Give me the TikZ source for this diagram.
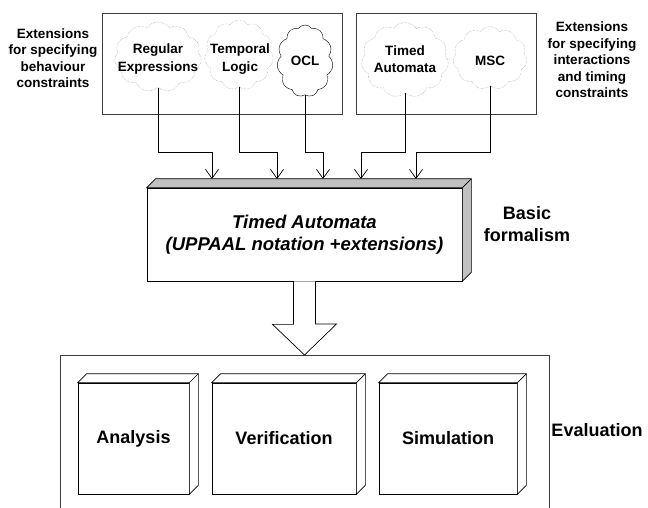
\documentclass[tikz,border=0pt]{standalone}
\usepackage{fontspec}
\setmainfont{Liberation Sans}
\usetikzlibrary{shapes,shapes.symbols,arrows.meta}
\definecolor{faceGray}{RGB}{192,192,192}
\definecolor{cloudGray}{RGB}{135,135,135}
\definecolor{frameGray}{RGB}{60,60,60}

\begin{document}
\begin{tikzpicture}[x=1pt,y=-1pt,
	every node/.style={font=\bfseries},
	frame/.style={draw=frameGray, line width=0.8pt, inner sep=0pt},
	ext/.style={cloud, cloud puffs=11, cloud puff arc=110, cloud ignores aspect,
		draw=cloudGray, densely dotted, inner sep=0pt},
	extlbl/.style={align=center, font=\bfseries\fontsize{13.5}{17.5}\selectfont},
	side/.style={align=center, font=\bfseries\fontsize{13.5}{16.5}\selectfont},
	block/.style={draw, fill=white, line width=0.7pt, inner sep=0pt, align=center,
		font=\bfseries\fontsize{18}{22}\selectfont},
	arr/.style={-{Straight Barb[length=9pt,width=13pt]}, line width=0.7pt},
	]
	\useasboundingbox (0,0) rectangle (648,508);
	
	% frames around the extensions
	\node[frame, minimum width=240, minimum height=101] (beh) at (222,63.5) {};
	\node[frame, minimum width=180, minimum height=101] (int) at (446,63.5) {};
	
	% extension clouds
	\node[ext, minimum width=87, minimum height=70] (re) at (158,57) {};
	\node[ext, minimum width=69, minimum height=70] (tl) at (239,55) {};
	\node[ext, minimum width=56, minimum height=72, draw=black, solid] (ocl) at (305,61) {};
	\node[ext, minimum width=87, minimum height=75] (tat) at (405,60) {};
	\node[ext, minimum width=74, minimum height=63] (msc) at (490,58) {};
	
	\node[extlbl] (reT) at (158,59) {Regular\\Expressions};
	\node[extlbl] (tlT) at (240,59) {Temporal\\Logic};
	\node[extlbl] (oclT) at (305,61) {OCL};
	\node[extlbl] (tatT) at (405,59) {Timed\\Automata};
	\node[extlbl] (mscT) at (490,61) {MSC};
	
	% side labels
	\node[side] (behL) at (53,58) {Extensions\\for specifying\\behaviour\\constraints};
	\node[side] (intL) at (592,60) {Extensions\\for specifying\\interactions\\and timing\\constraints};
	\node[block, draw=none, fill=none] (basL) at (527,224.5) {Basic\\formalism};
	\node[block, draw=none, fill=none] (evL) at (597,430) {Evaluation};
	
	% basic formalism box
	\node[block, minimum width=315, minimum height=93,
		font=\bfseries\itshape\fontsize{18.5}{22}\selectfont] (ta) at (304.5,234.5)
		{Timed Automata\\(UPPAAL notation +extensions)};
	\draw[fill=faceGray, line width=0.7pt] (ta.north west) -- ++(9,-9) -| ([shift={(9,-9)}]ta.south east)
		-- (ta.south east) -- (ta.north east) -- cycle;
	\draw[line width=0.7pt] (ta.north east) -- ++(9,-9);
	
	% arrows into the basic formalism
	\coordinate (bend) at (0,152);
	\coordinate (t1) at (212,179);
	\coordinate (t2) at (277,179);
	\coordinate (t3) at (323,179);
	\coordinate (t4) at (361,179);
	\coordinate (t5) at (416,179);
	\draw[arr] (re.south) |- (bend -| t1) -- (t1);
	\draw[arr] (tl.south) |- (bend -| t2) -- (t2);
	\draw[arr] (ocl.south) |- (bend -| t3) -- (t3);
	\draw[arr] (tat.south) |- (bend -| t4) -- (t4);
	\draw[arr] (msc.south) |- (bend -| t5) -- (t5);
	
	% evaluation frame (runs off the bottom)
	\coordinate (evtop) at (305,355);
	\draw[frame] (60,512) -- (60,355) -- (549,355) -- (549,512);
	
	% hollow arrow down to evaluation
	\draw[fill=white, line width=0.7pt] ([xshift=-11pt]ta.south) -- ++(0,43) -- ++(-21,0)
		-- (ta.south |- evtop) -- ++(32,-31) -- ++(-21,0) -- ([xshift=11pt]ta.south);
	
	% evaluation boxes
	\node[block, minimum width=111, minimum height=111] (ana) at (133.5,438.5) {Analysis};
	\node[block, minimum width=144, minimum height=111] (ver) at (284,438.5) {Verification};
	\node[block, minimum width=138, minimum height=111] (sim) at (448,438.5) {Simulation};
	\foreach \b in {ana,ver,sim}{
		\draw[fill=white, line width=0.7pt] (\b.north west) -- ++(9,-9) -| ([shift={(9,-9)}]\b.south east)
			-- (\b.south east) -- (\b.north east) -- cycle;
		\draw[line width=0.7pt] (\b.north east) -- ++(9,-9);
	}
\end{tikzpicture}
\end{document}
